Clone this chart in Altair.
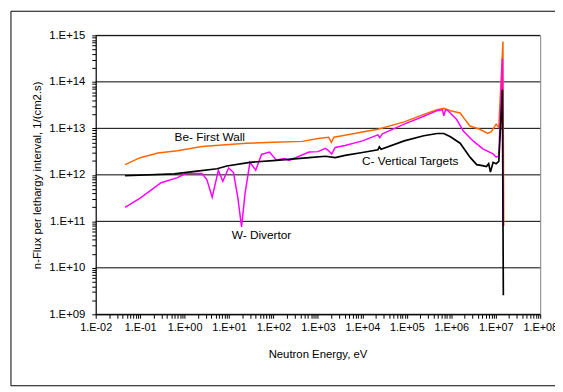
import altair as alt
import pandas as pd

# ---- data ----
be_energy = [0.0457, 0.1, 0.251, 0.692, 2.45, 24.5, 100, 447, 1000, 1740, 2000, 2290, 4070,
             1e4, 2.24e4, 8.71e4, 2.40e5, 4.79e5, 6.76e5, 9.55e5, 1.58e6, 2.0e6, 2.63e6,
             4.37e6, 6.61e6, 7.94e6, 1.02e7, 1.17e7, 1.45e7, 1.51e7]
be_flux = [1.66e12, 2.34e12, 2.95e12, 3.31e12, 4.07e12, 4.79e12, 5.01e12, 5.25e12, 6.03e12,
           6.46e12, 5.01e12, 6.46e12, 7.08e12, 8.32e12, 9.55e12, 1.38e13, 2.0e13, 2.51e13,
           2.69e13, 2.40e13, 2.14e13, 1.58e13, 1.12e13, 9.55e12, 7.76e12, 8.51e12, 1.23e13,
           1.05e13, 7.41e14, 7.94e10]

w_energy = [0.0457, 0.1, 0.295, 0.692, 1.05, 2.45, 3.16, 4.17, 5.01, 5.75, 7.24, 9.77, 12.6,
            15.8, 19.1, 22.9, 29.5, 39.8, 53.7, 81.3, 115, 174, 224, 631, 1000, 1480, 1740,
            2040, 2450, 4070, 1e4, 2.24e4, 2.45e4, 2.82e4, 8.71e4, 2.40e5, 4.79e5, 6.31e5,
            6.76e5, 7.41e5, 7.94e5, 1.32e6, 1.86e6, 3.09e6, 5.13e6, 8.71e6, 1.02e7, 1.17e7,
            1.41e7, 1.48e7]
w_flux = [2.0e11, 3.16e11, 6.76e11, 8.71e11, 1.07e12, 1.07e12, 7.94e11, 3.31e11, 7.08e11,
          1.26e12, 7.24e11, 1.41e12, 1.12e12, 3.16e11, 7.59e10, 3.98e11, 1.86e12, 1.26e12,
          2.75e12, 3.09e12, 2.09e12, 2.24e12, 2.04e12, 3.09e12, 3.16e12, 3.72e12, 3.31e12,
          2.82e12, 3.89e12, 4.27e12, 5.37e12, 7.24e12, 6.31e12, 7.59e12, 1.23e13, 1.82e13,
          2.40e13, 2.51e13, 1.86e13, 2.51e13, 2.51e13, 1.55e13, 8.71e12, 5.37e12, 3.63e12,
          2.82e12, 2.40e12, 2.57e12, 3.16e14, 7.94e10]

c_energy = [0.0457, 0.589, 1.91, 5.37, 8.91, 29.5, 115, 631, 1480, 2450, 4070, 1e4, 2.24e4,
            2.40e4, 2.63e4, 8.71e4, 2.40e5, 4.79e5, 6.76e5, 9.55e5, 1.58e6, 2.63e6, 3.72e6,
            5.01e6, 6.17e6, 6.92e6, 7.59e6, 8.71e6, 1.02e7, 1.17e7, 1.41e7, 1.48e7]
c_flux = [9.55e11, 1.05e12, 1.20e12, 1.35e12, 1.55e12, 1.86e12, 2.04e12, 2.34e12, 2.51e12,
          2.34e12, 2.63e12, 3.02e12, 3.47e12, 3.98e12, 3.55e12, 5.37e12, 6.92e12, 7.76e12,
          7.76e12, 6.61e12, 4.79e12, 2.40e12, 1.66e12, 1.58e12, 1.51e12, 1.74e12, 1.15e12,
          1.86e12, 1.74e12, 1.95e12, 6.76e13, 2.57e9]

series_names = ["Be- First Wall", "W- Divertor", "C- Vertical Targets"]
series_colors = ["#FF6600", "#FF00FF", "#000000"]

label_text = ["Be- First Wall", "W- Divertor", "C- Vertical Targets"]
label_energy = [0.594, 11.5, 9.8e3]
label_flux = [6.6e12, 5.0e10, 1.95e12]

x_decades = [1e-2, 1e-1, 1e0, 1e1, 1e2, 1e3, 1e4, 1e5, 1e6, 1e7, 1e8]
y_decades = [1e9, 1e10, 1e11, 1e12, 1e13, 1e14, 1e15]

# ---- tables ----
def minor_ticks(decades):
    vals = []
    for d in decades[:-1]:
        for k in range(1, 10):
            vals.append(d * k)
    vals.append(decades[-1])
    return vals

x_ticks = minor_ticks(x_decades)
y_ticks = minor_ticks(y_decades)

frames = []
for name, e, f in [(series_names[0], be_energy, be_flux),
                   (series_names[1], w_energy, w_flux),
                   (series_names[2], c_energy, c_flux)]:
    frames.append(pd.DataFrame({"E": e, "F": f, "series": name, "i": range(len(e))}))
lines_df = pd.concat(frames, ignore_index=True)
labels_df = pd.DataFrame({"E": label_energy, "F": label_flux, "text": label_text})
grid_df = pd.DataFrame({"F": y_decades})

label_expr = ("abs(log(datum.value)/LN10 - round(log(datum.value)/LN10)) < 0.01 ? "
              "'1.E' + (datum.value < 1 ? '-' : '+') + "
              "(abs(round(log(datum.value)/LN10)) < 10 ? '0' : '') + "
              "abs(round(log(datum.value)/LN10)) : ''")

FONT = "Liberation Sans"
xs = alt.Scale(type="log", domain=[1e-2, 1e8])
ys = alt.Scale(type="log", domain=[1e9, 1e15])

x_axis = alt.Axis(values=x_ticks, labelExpr=label_expr, labelOverlap=False, labelFlush=False,
                  tickSize=4, labelPadding=3, labelFontSize=11,
                  title="Neutron Energy, eV", titleX=225, titleY=41,
                  titleBaseline="middle", titleAlign="center", grid=False)
y_axis = alt.Axis(values=y_ticks, labelExpr=label_expr, labelOverlap=False, labelFlush=False,
                  tickSize=4, labelPadding=7, labelFontSize=11.5,
                  title="n-Flux per lethargy interval, 1/(cm2.s)",
                  titleX=-59, titleY=141.5, titleAngle=-90, titleBaseline="middle",
                  titleAlign="center", grid=False)

X = alt.X("E:Q", scale=xs, axis=x_axis)
Y = alt.Y("F:Q", scale=ys, axis=y_axis)

border = alt.Chart(pd.DataFrame({"a": [0]})).mark_rect(
    fill="transparent", stroke="black", strokeWidth=1
).encode(x=alt.value(-86), x2=alt.value(475), y=alt.value(-24.5), y2=alt.value(355.5))

grid = alt.Chart(grid_df).mark_rule(color="black", strokeWidth=1).encode(y=Y)

layers = [border, grid]
for name, col, w in zip(series_names, series_colors, [1.5, 1.5, 1.7]):
    layers.append(
        alt.Chart(lines_df).transform_filter(alt.datum.series == name)
        .mark_line(color=col, strokeWidth=w)
        .encode(x=X, y=Y, order="i:Q")
    )

labels = alt.Chart(labels_df).mark_text(
    align="left", baseline="middle", font=FONT, fontSize=12, color="black"
).encode(x=X, y=Y, text="text:N")
layers.append(labels)

chart = alt.layer(*layers).properties(
    width=451, height=283,
    autosize=alt.AutoSizeParams(type="none"),
    padding={"left": 89, "top": 25, "right": 15, "bottom": 73},
    background="white",
).configure_view(stroke="#808080", strokeWidth=1).configure_axis(
    domainColor="black", tickColor="black", labelColor="black", titleColor="black",
    labelFont=FONT, titleFont=FONT, titleFontSize=11.5,
    titleFontWeight="normal", domainWidth=1, tickWidth=1,
)

chart.save("out.html", embed_options={"renderer": "svg", "actions": False})
